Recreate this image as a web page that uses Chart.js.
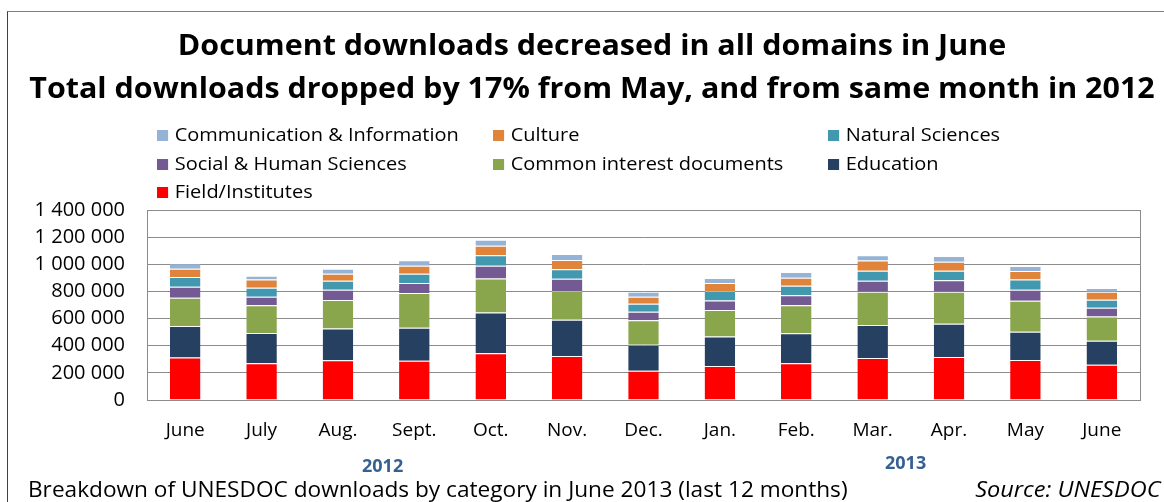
<!DOCTYPE html>
<html>
<head>
<meta charset="utf-8">
<script src="https://cdn.jsdelivr.net/npm/chart.js@4.4.1/dist/chart.umd.min.js"></script>
<style>
  html, body { margin: 0; padding: 0; background: #fff; }
  #wrap { position: relative; width: 1164px; height: 502px; overflow: hidden; font-family: 'Open Sans', sans-serif; color: #000; }
  #frame { position: absolute; left: 7px; top: 11px; width: 1170px; height: 500px; border-top: 1px solid #808080; border-left: 1px solid #404040; }
  #chart { position: absolute; left: 0; top: 0; }
  #title { position: absolute; left: 10px; top: 23px; width: 1164px; text-align: center; font-weight: 700; font-size: 28px; line-height: 43px; transform: scaleX(1.087); transform-origin: 582px 0; }
  .leg { position: absolute; font-size: 18px; line-height: 24px; white-space: nowrap; transform: scaleX(1.11); transform-origin: 0 0; }
  .leg i { display: inline-block; width: 10px; height: 11px; margin-right: 6px; vertical-align: 0px; }
  .year { position: absolute; font-weight: 700; font-size: 18px; color: #366092; }
  .foot { position: absolute; font-size: 21px; white-space: nowrap; }
</style>
</head>
<body>
<div id="wrap">
  <div id="frame"></div>
  <canvas id="chart" width="1164" height="502"></canvas>
  <div id="title">Document downloads decreased in all domains in June<br>Total downloads dropped by 17% from May, and from same month in 2012</div>
  <div id="legend"></div>
  <div class="year" style="left:362px; top:453px;">2012</div>
  <div class="year" style="left:885px; top:450px;">2013</div>
  <div class="foot" style="left:28px; top:475px; transform:scaleX(1.078); transform-origin:0 0;">Breakdown of UNESDOC downloads by category in June 2013 (last 12 months)</div>
  <div class="foot" style="right:4px; top:475px; font-style:italic; transform:scaleX(1.12); transform-origin:100% 0;">Source: UNESDOC</div>
</div>
<script>
// months (June 2012 -> June 2013)
const months = ['June', 'July', 'Aug.', 'Sept.', 'Oct.', 'Nov.', 'Dec.', 'Jan.', 'Feb.', 'Mar.', 'Apr.', 'May', 'June'];

// downloads per category
const fieldInstitutes = [314000, 270000, 292000, 290000, 344000, 324000, 216000, 251000, 270000, 309000, 317000, 295000, 260000];
const education       = [231000, 224000, 234000, 243000, 300000, 268000, 192000, 216000, 221000, 244000, 245000, 208000, 177000];
const commonInterest  = [209000, 204000, 211000, 255000, 252000, 211000, 179000, 196000, 207000, 245000, 236000, 229000, 179000];
const socialHuman     = [81000, 63000, 76000, 74000, 94000, 91000, 64000, 71000, 73000, 81000, 84000, 81000, 64000];
const naturalSciences = [71000, 67000, 66000, 69000, 76000, 69000, 59000, 69000, 71000, 74000, 71000, 74000, 59000];
const culture         = [62000, 59000, 52000, 59000, 71000, 69000, 51000, 59000, 59000, 74000, 66000, 63000, 59000];
const commInfo        = [39000, 29000, 37000, 39000, 44000, 44000, 37000, 37000, 42000, 39000, 42000, 37000, 27000];

const yTicks = [0, 200000, 400000, 600000, 800000, 1000000, 1200000, 1400000];

// bottom to top
const series = [
    { label: 'Field/Institutes', data: fieldInstitutes, color: '#FF0000' },
    { label: 'Education', data: education, color: '#254061' },
    { label: 'Common interest documents', data: commonInterest, color: '#8AA64D' },
    { label: 'Social & Human Sciences', data: socialHuman, color: '#735A93' },
    { label: 'Natural Sciences', data: naturalSciences, color: '#4198AF' },
    { label: 'Culture', data: culture, color: '#E0843C' },
    { label: 'Communication & Information', data: commInfo, color: '#95B3D7' }
];

const fmt = v => String(v).replace(/\B(?=(\d{3})+(?!\d))/g, ' ');

// legend in three columns, top row = top of stack
const legendCols = [157, 493, 828];
const legendRows = [122, 151, 179];
const legendEl = document.getElementById('legend');
series.slice().reverse().forEach((s, i) => {
    const el = document.createElement('div');
    el.className = 'leg';
    el.style.left = legendCols[i % 3] + 'px';
    el.style.top = legendRows[Math.floor(i / 3)] + 'px';
    el.innerHTML = `<i style="background:${s.color}"></i>` + s.label.replace(/&/g, '&amp;');
    legendEl.appendChild(el);
});

// box round the plot area
const plotBox = {
    id: 'plotBox',
    afterDraw(chart) {
        const a = chart.chartArea, ctx = chart.ctx;
        ctx.save();
        ctx.strokeStyle = '#8C8C8C';
        ctx.lineWidth = 1;
        ctx.strokeRect(Math.round(a.left) + 0.5, Math.round(a.top) + 0.5, Math.round(a.right - a.left), Math.round(a.bottom - a.top));
        ctx.restore();
    }
};

new Chart(document.getElementById('chart'), {
    type: 'bar',
    data: {
        labels: months,
        datasets: series.map(s => ({
            label: s.label,
            data: s.data,
            backgroundColor: s.color,
            borderColor: 'rgba(255,255,255,0.35)',
            borderWidth: { top: 1 },
            borderSkipped: false,
            categoryPercentage: 1,
            barPercentage: 0.4
        }))
    },
    options: {
        responsive: false,
        animation: false,
        layout: { padding: { left: 0, top: 210, right: 24, bottom: 0 } },
        plugins: { legend: { display: false }, tooltip: { enabled: false }, title: { display: false } },
        scales: {
            x: {
                stacked: true,
                grid: { display: false, drawTicks: false },
                border: { display: false },
                ticks: { color: '#000', padding: 19, font: { family: 'Open Sans', size: 19 } },
                afterFit: s => { s.height = 102; }
            },
            y: {
                stacked: true,
                min: 0,
                max: 1400000,
                afterBuildTicks: s => { s.ticks = yTicks.map(v => ({ value: v })); },
                grid: { color: '#8C8C8C', lineWidth: 1, drawTicks: false },
                border: { display: false },
                ticks: { color: '#000', padding: 22, font: { family: 'Open Sans', size: 20 }, callback: v => fmt(v) },
                afterFit: s => { s.width = 147; }
            }
        }
    },
    plugins: [plotBox]
});
</script>
</body>
</html>
